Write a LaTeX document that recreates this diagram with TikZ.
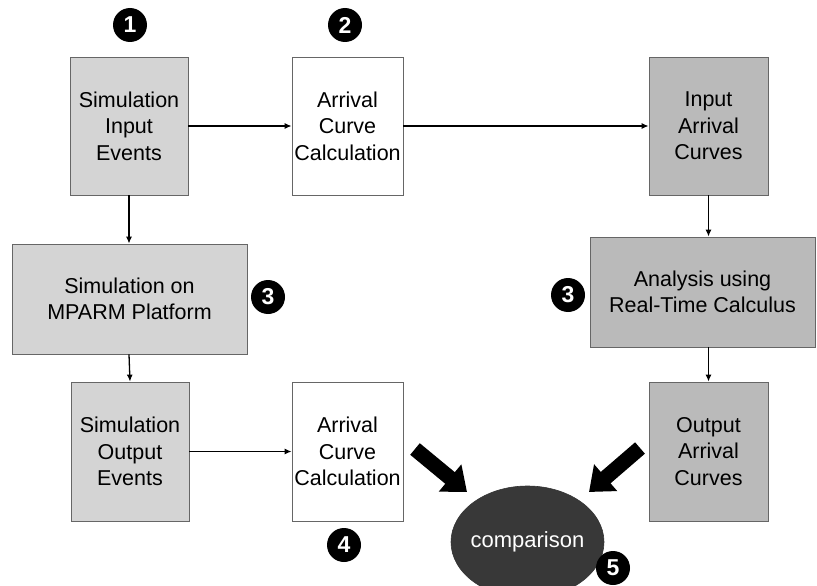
\documentclass[tikz,border=0pt]{standalone}
\usepackage{fontspec}
\setmainfont{Liberation Sans}
\usetikzlibrary{arrows.meta,shapes.geometric}
\tikzset{
  boxbase/.style={draw=black!60, line width=0.8pt, align=center, inner sep=0pt,
    font=\fontsize{21.5}{26.5}\selectfont},
  simbox/.style={boxbase, fill=black!17},
  rtcbox/.style={boxbase, fill=black!27},
  plainbox/.style={boxbase, fill=white},
  numc/.style={circle, fill=black, text=white, minimum size=34pt, inner sep=0pt,
    font=\fontsize{23}{23}\selectfont\bfseries},
  flow/.style={draw=black, line width=1.3pt, -{Latex[length=7pt,width=6pt]}},
  blockarrow/.style={draw=black, line width=15pt, -{Triangle[width=34pt,length=22pt]}}
}
\begin{document}
\begin{tikzpicture}[x=1pt,y=-1pt]
\useasboundingbox (0,0) rectangle (817,586);
\clip (0,0) rectangle (817,586);
% boxes
\node[simbox, minimum width=118pt, minimum height=138pt] (sie) at (129,126) {Simulation\\Input\\Events};
\node[plainbox, minimum width=111pt, minimum height=138pt] (acc1) at (347.5,126) {Arrival\\Curve\\Calculation};
\node[rtcbox, minimum width=119pt, minimum height=138pt] (iac) at (708.5,126) {Input\\Arrival\\Curves};
\node[simbox, minimum width=235pt, minimum height=110pt] (mparm) at (129.5,299) {Simulation on\\MPARM Platform};
\node[rtcbox, minimum width=225pt, minimum height=110pt] (rtc) at (702.5,292) {Analysis using\\Real-Time Calculus};
\node[simbox, minimum width=118pt, minimum height=139pt] (soe) at (130,451.5) {Simulation\\Output\\Events};
\node[plainbox, minimum width=111pt, minimum height=139pt] (acc2) at (347.5,451.5) {Arrival\\Curve\\Calculation};
\node[rtcbox, minimum width=119pt, minimum height=139pt] (oac) at (708.5,451.5) {Output\\Arrival\\Curves};
\node[ellipse, fill=black!78, draw=black!80, line width=0.6pt, inner sep=0pt,
  minimum width=153pt, minimum height=112pt,
  label={[text=white, font=\fontsize{22}{26.5}\selectfont]center:comparison}] (cmp) at (527.5,542) {};
% numbers
\node[numc] (n1) at (130,25) {1};
\node[numc] (n2) at (345,25) {2};
\node[numc] (n3a) at (268,297) {3};
\node[numc] (n3b) at (568,295) {3};
\node[numc] (n4) at (344,545) {4};
\node[numc] (n5) at (613,568) {5};
% connectors
\draw[flow] (sie.east) -- (acc1.west);
\draw[flow] (acc1.east) -- (iac.west);
\draw[flow] (sie.south) -- (mparm.north -| sie.south);
\draw[flow] (mparm.south -| sie.south) -- (soe.north);
\draw[flow] (soe.east) -- (acc2.west);
\draw[flow] (iac.south) -- (rtc.north -| iac.south);
\draw[flow] (rtc.south -| oac.north) -- (oac.north);
% block arrows
\coordinate (bl) at (415,449);
\coordinate (bltip) at (467,492);
\coordinate (br) at (640,448);
\coordinate (brtip) at (589,492);
\draw[blockarrow] (bl) -- (bltip);
\draw[blockarrow] (br) -- (brtip);
\end{tikzpicture}
\end{document}
